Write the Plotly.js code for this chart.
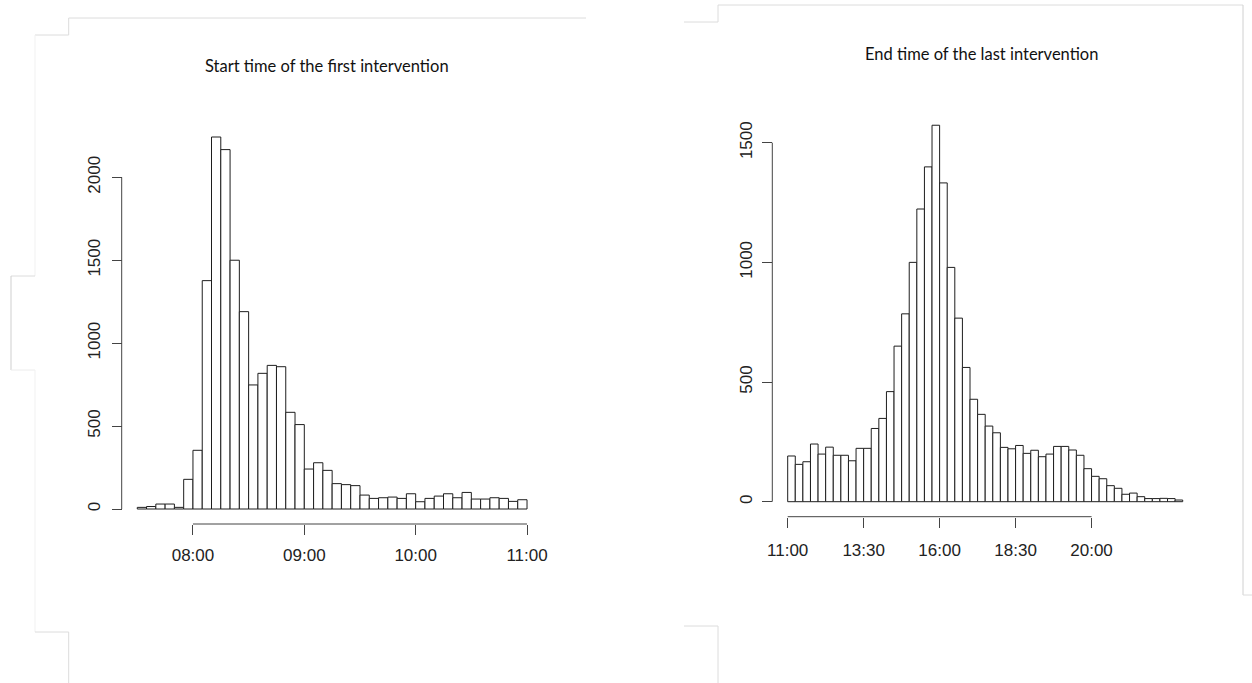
<!DOCTYPE html>
<html>
<head>
<meta charset="utf-8">
<script src="https://cdn.plot.ly/plotly-3.0.1.min.js"></script>
<style>
html,body{margin:0;padding:0;background:#fff;}
#chart{width:1252px;height:683px;}
</style>
</head>
<body>
<div id="chart"></div>
<script>
// ---- Data ----
const startBins = ["07:30","07:35","07:40","07:45","07:50","07:55",
  "08:00","08:05","08:10","08:15","08:20","08:25","08:30","08:35","08:40","08:45","08:50","08:55",
  "09:00","09:05","09:10","09:15","09:20","09:25","09:30","09:35","09:40","09:45","09:50","09:55",
  "10:00","10:05","10:10","10:15","10:20","10:25","10:30","10:35","10:40","10:45","10:50","10:55"];
const startCounts = [10,15,30,30,10,179,
  354,1377,2243,2167,1500,1190,748,818,866,858,583,509,
  241,279,233,153,147,141,84,64,68,72,64,92,
  44,64,78,92,68,100,60,60,68,64,46,56];
const startBinMinutes = 5;
const startTickText = ["08:00","09:00","10:00","11:00"];
const startYTicks = [0,500,1000,1500,2000];

const endBins = ["11:00","11:15","11:30","11:45","12:00","12:15","12:30","12:45",
  "13:00","13:15","13:30","13:45","14:00","14:15","14:30","14:45",
  "15:00","15:15","15:30","15:45","16:00","16:15","16:30","16:45",
  "17:00","17:15","17:30","17:45","18:00","18:15","18:30","18:45",
  "19:00","19:15","19:30","19:45","20:00","20:15","20:30","20:45",
  "21:00","21:15","21:30","21:45","22:00","22:15","22:30","22:45",
  "23:00","23:15","23:30","23:45"];
const endCounts = [191,156,167,241,199,228,194,194,
  171,223,223,306,348,460,650,785,
  1000,1223,1399,1573,1332,979,767,561,
  428,365,316,288,227,221,235,202,
  215,188,199,231,231,216,194,138,
  106,96,67,56,31,36,21,13,
  13,14,13,7];
const endBinMinutes = 15;
// tick positions (bin starts) and the labels printed under them
const endTickAt = ["11:00","13:30","16:00","18:30","21:00"];
const endTickText = ["11:00","13:30","16:00","18:30","20:00"];
const endYTicks = [0,500,1000,1500];

const titleLeft = "Start time of the first intervention";
const titleRight = "End time of the last intervention";

// ---- helpers ----
const W = 1252, H = 683;
const toH = s => { const p = s.split(":"); return (+p[0]) + (+p[1]) / 60; };
const fx = px => px / W;
const fy = py => 1 - py / H;

const startX = startBins.map(s => toH(s) + startBinMinutes / 120);
const endX = endBins.map(s => toH(s) + endBinMinutes / 120);

const barLine = {color: "#1e1e1e", width: 1};
const traces = [
  {type: "bar", x: startX, y: startCounts, width: startBinMinutes / 60,
   marker: {color: "#ffffff", line: barLine}, xaxis: "x", yaxis: "y", hoverinfo: "skip"},
  {type: "bar", x: endX, y: endCounts, width: endBinMinutes / 60,
   marker: {color: "#ffffff", line: barLine}, xaxis: "x2", yaxis: "y2", hoverinfo: "skip"}
];

const tickFont = {family: "Liberation Sans, Arial, sans-serif", size: 17, color: "#222"};
const axisCommon = {showgrid: false, zeroline: false, showline: false, ticks: "outside",
  ticklen: 10, tickwidth: 1, tickcolor: "#444", tickfont: tickFont, automargin: false, fixedrange: true};

const frameCol = "#dcdcdc", faintCol = "#f1f1f1";
function seg(x0, y0, x1, y1, color, w) {
  return {type: "line", xref: "paper", yref: "paper", x0: fx(x0), y0: fy(y0), x1: fx(x1), y1: fy(y1),
    line: {color: color, width: w || 1}, layer: "below"};
}

const shapes = [
  // axis lines (drawn only over the labelled range, like the original)
  {type: "line", xref: "x", yref: "paper", x0: toH(startTickText[0]), x1: toH(startTickText[startTickText.length-1]),
   y0: fy(524), y1: fy(524), line: {color: "#444", width: 1}},
  {type: "line", xref: "paper", yref: "y", x0: fx(121.7), x1: fx(121.7),
   y0: startYTicks[0], y1: startYTicks[startYTicks.length-1], line: {color: "#444", width: 1}},
  {type: "line", xref: "x2", yref: "paper", x0: toH(endTickAt[0]), x1: toH(endTickAt[endTickAt.length-1]),
   y0: fy(516.7), y1: fy(516.7), line: {color: "#444", width: 1}},
  {type: "line", xref: "paper", yref: "y2", x0: fx(772.3), x1: fx(772.3),
   y0: endYTicks[0], y1: endYTicks[endYTicks.length-1], line: {color: "#444", width: 1}},
  // faint page-edge frame lines from the screenshot
  seg(68.7, 18, 586, 18, frameCol),
  seg(68.7, 18, 68.7, 35, frameCol),
  seg(35, 35, 68.7, 35, frameCol),
  seg(35, 35, 35, 276, faintCol),
  seg(11, 276, 35, 276, frameCol),
  seg(11, 276, 11, 370, "#cfcfcf"),
  seg(11, 370, 35, 370, "#ececec"),
  seg(35, 370, 35, 632, faintCol),
  seg(35, 632, 68.7, 632, frameCol),
  seg(68.7, 632, 68.7, 683, frameCol),
  seg(684, 22, 718, 22, frameCol),
  seg(718, 5, 718, 22, frameCol),
  seg(718, 5, 1243, 5, frameCol),
  seg(1243, 5, 1243, 595, "#d0d0d0"),
  seg(1243, 595, 1252, 595, frameCol),
  seg(684, 626, 718, 626, frameCol),
  seg(718, 626, 718, 683, frameCol)
];

const layout = {
  width: W, height: H,
  margin: {l: 0, r: 0, t: 0, b: 0, pad: 0},
  paper_bgcolor: "#ffffff", plot_bgcolor: "rgba(0,0,0,0)",
  showlegend: false, hovermode: false, bargap: 0,
  xaxis: Object.assign({}, axisCommon, {domain: [fx(81.6), fx(582.7)], range: [7.0, 11.5],
    anchor: "free", position: fy(524), ticklabelstandoff: 6,
    tickvals: startTickText.map(toH), ticktext: startTickText}),
  yaxis: Object.assign({}, axisCommon, {domain: [fy(525.6), fy(110.96)], range: [-100, 2400],
    anchor: "free", position: fx(121.7), tickvals: startYTicks, tickangle: -90, ticklabelstandoff: 5}),
  xaxis2: Object.assign({}, axisCommon, {domain: [fx(757.3), fx(1213.1)], range: [10, 25],
    anchor: "free", position: fy(516.7), ticklabelstandoff: 8,
    tickvals: endTickAt.map(toH), ticktext: endTickText}),
  yaxis2: Object.assign({}, axisCommon, {domain: [fy(520.85), fy(94.84)], range: [-80, 1700],
    anchor: "free", position: fx(772.3), tickvals: endYTicks, tickangle: -90, ticklabelstandoff: 4}),
  shapes: shapes,
  annotations: [
    {text: titleLeft, xref: "paper", yref: "paper", x: fx(327), y: fy(66), xanchor: "center", yanchor: "middle",
     showarrow: false, font: {family: "Lato, sans-serif", size: 16.5, color: "#111"}},
    {text: titleRight, xref: "paper", yref: "paper", x: fx(981), y: fy(54), xanchor: "center", yanchor: "middle",
     showarrow: false, font: {family: "Lato, sans-serif", size: 16.5, color: "#111"}}
  ]
};

Plotly.newPlot("chart", traces, layout, {staticPlot: true, displayModeBar: false});
</script>
</body>
</html>
